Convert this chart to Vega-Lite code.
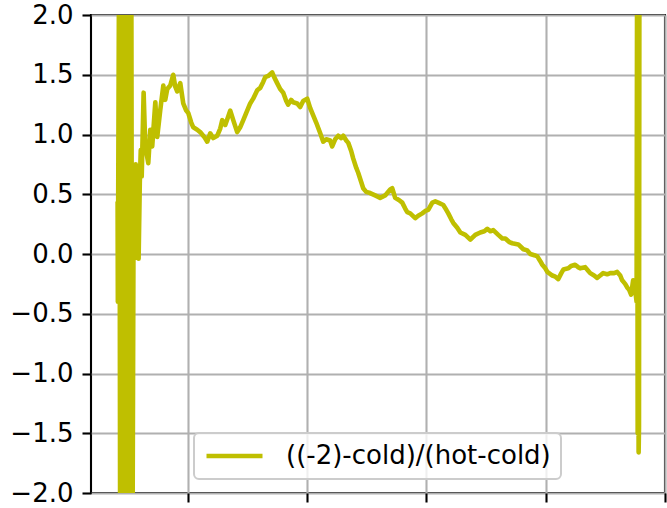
{
  "$schema": "https://vega.github.io/schema/vega-lite/v6.json",
  "width": 574,
  "height": 478,
  "autosize": {"type": "none"},
  "padding": {"left": 91, "top": 15, "right": 2, "bottom": 15},
  "background": "white",
  "config": {
    "view": {"stroke": "black", "strokeWidth": 2.1},
    "axis": {
      "grid": true,
      "gridColor": "#b0b0b0",
      "gridWidth": 2.1,
      "domain": false,
      "tickColor": "black",
      "tickWidth": 2.1,
      "tickSize": 9,
      "labelFont": "DejaVu Sans",
      "labelFontSize": 26,
      "labelColor": "black",
      "labelPadding": 9,
      "title": null
    }
  },
  "data": {
    "values": [
      {"t": 0.414, "v": 0.42}, {"t": 0.416, "v": -0.40},
      {"t": 0.428, "v": 3}, {"t": 0.436, "v": -3}, {"t": 0.445, "v": 3}, {"t": 0.453, "v": -3},
      {"t": 0.461, "v": 3}, {"t": 0.470, "v": -3}, {"t": 0.478, "v": 3}, {"t": 0.487, "v": -3},
      {"t": 0.495, "v": 3}, {"t": 0.503, "v": -3}, {"t": 0.512, "v": 3}, {"t": 0.520, "v": -3},
      {"t": 0.528, "v": 3}, {"t": 0.537, "v": -3},
      {"t": 0.549, "v": 0.74}, {"t": 0.558, "v": -0.02}, {"t": 0.566, "v": 0.75}, {"t": 0.575, "v": -0.03},
      {"t": 0.583, "v": 0.70}, {"t": 0.590, "v": -0.04}, {"t": 0.600, "v": 0.60}, {"t": 0.608, "v": 0.87},
      {"t": 0.616, "v": 0.65}, {"t": 0.632, "v": 1.35}, {"t": 0.646, "v": 0.90}, {"t": 0.671, "v": 0.76},
      {"t": 0.688, "v": 1.04}, {"t": 0.704, "v": 0.90}, {"t": 0.730, "v": 1.27}, {"t": 0.746, "v": 0.98},
      {"t": 0.771, "v": 1.20}, {"t": 0.797, "v": 1.41}, {"t": 0.813, "v": 1.29}, {"t": 0.830, "v": 1.38},
      {"t": 0.855, "v": 1.41}, {"t": 0.880, "v": 1.50}, {"t": 0.897, "v": 1.40}, {"t": 0.914, "v": 1.36},
      {"t": 0.939, "v": 1.43}, {"t": 0.964, "v": 1.26}, {"t": 0.989, "v": 1.20}, {"t": 1.006, "v": 1.18},
      {"t": 1.031, "v": 1.10}, {"t": 1.048, "v": 1.06}, {"t": 1.081, "v": 1.04}, {"t": 1.106, "v": 1.02},
      {"t": 1.140, "v": 0.98}, {"t": 1.165, "v": 0.94}, {"t": 1.190, "v": 1.01}, {"t": 1.215, "v": 0.97},
      {"t": 1.249, "v": 0.99}, {"t": 1.274, "v": 1.05}, {"t": 1.291, "v": 1.12}, {"t": 1.316, "v": 1.08},
      {"t": 1.341, "v": 1.15}, {"t": 1.358, "v": 1.20}, {"t": 1.383, "v": 1.12}, {"t": 1.416, "v": 1.02},
      {"t": 1.441, "v": 1.06}, {"t": 1.467, "v": 1.12}, {"t": 1.492, "v": 1.18}, {"t": 1.525, "v": 1.26},
      {"t": 1.550, "v": 1.30}, {"t": 1.584, "v": 1.37}, {"t": 1.609, "v": 1.39}, {"t": 1.634, "v": 1.44},
      {"t": 1.651, "v": 1.48}, {"t": 1.676, "v": 1.49}, {"t": 1.709, "v": 1.52}, {"t": 1.726, "v": 1.48},
      {"t": 1.751, "v": 1.43}, {"t": 1.776, "v": 1.38}, {"t": 1.802, "v": 1.35}, {"t": 1.827, "v": 1.28},
      {"t": 1.843, "v": 1.25}, {"t": 1.868, "v": 1.29}, {"t": 1.885, "v": 1.27}, {"t": 1.919, "v": 1.26},
      {"t": 1.944, "v": 1.23}, {"t": 1.969, "v": 1.28}, {"t": 2.003, "v": 1.30}, {"t": 2.028, "v": 1.22},
      {"t": 2.053, "v": 1.16}, {"t": 2.078, "v": 1.10}, {"t": 2.112, "v": 1.01}, {"t": 2.137, "v": 0.94},
      {"t": 2.162, "v": 0.96}, {"t": 2.195, "v": 0.95}, {"t": 2.212, "v": 0.90}, {"t": 2.237, "v": 0.96},
      {"t": 2.263, "v": 0.99}, {"t": 2.288, "v": 0.97}, {"t": 2.305, "v": 0.99}, {"t": 2.330, "v": 0.95},
      {"t": 2.347, "v": 0.93}, {"t": 2.372, "v": 0.86}, {"t": 2.388, "v": 0.80}, {"t": 2.414, "v": 0.72},
      {"t": 2.430, "v": 0.68}, {"t": 2.456, "v": 0.60}, {"t": 2.472, "v": 0.55}, {"t": 2.497, "v": 0.52},
      {"t": 2.530, "v": 0.51}, {"t": 2.572, "v": 0.49}, {"t": 2.614, "v": 0.47}, {"t": 2.656, "v": 0.49},
      {"t": 2.698, "v": 0.54}, {"t": 2.715, "v": 0.55}, {"t": 2.740, "v": 0.47}, {"t": 2.774, "v": 0.45},
      {"t": 2.799, "v": 0.43}, {"t": 2.824, "v": 0.38}, {"t": 2.841, "v": 0.35}, {"t": 2.866, "v": 0.34},
      {"t": 2.908, "v": 0.30}, {"t": 2.933, "v": 0.32}, {"t": 2.967, "v": 0.34}, {"t": 2.992, "v": 0.36},
      {"t": 3.017, "v": 0.37}, {"t": 3.051, "v": 0.43}, {"t": 3.076, "v": 0.44}, {"t": 3.101, "v": 0.43},
      {"t": 3.143, "v": 0.41}, {"t": 3.168, "v": 0.37}, {"t": 3.185, "v": 0.34}, {"t": 3.210, "v": 0.29},
      {"t": 3.227, "v": 0.26}, {"t": 3.260, "v": 0.22}, {"t": 3.286, "v": 0.18}, {"t": 3.328, "v": 0.16},
      {"t": 3.370, "v": 0.12}, {"t": 3.411, "v": 0.16}, {"t": 3.453, "v": 0.18}, {"t": 3.487, "v": 0.19},
      {"t": 3.512, "v": 0.21}, {"t": 3.537, "v": 0.19}, {"t": 3.562, "v": 0.20}, {"t": 3.604, "v": 0.16},
      {"t": 3.638, "v": 0.13}, {"t": 3.663, "v": 0.13}, {"t": 3.696, "v": 0.10}, {"t": 3.721, "v": 0.09},
      {"t": 3.772, "v": 0.08}, {"t": 3.814, "v": 0.04}, {"t": 3.847, "v": 0.03}, {"t": 3.872, "v": 0.00},
      {"t": 3.906, "v": -0.01}, {"t": 3.931, "v": -0.02}, {"t": 3.956, "v": -0.06}, {"t": 3.973, "v": -0.09},
      {"t": 3.998, "v": -0.12}, {"t": 4.015, "v": -0.15}, {"t": 4.057, "v": -0.18}, {"t": 4.082, "v": -0.19},
      {"t": 4.107, "v": -0.21}, {"t": 4.132, "v": -0.16}, {"t": 4.149, "v": -0.13}, {"t": 4.191, "v": -0.12},
      {"t": 4.214, "v": -0.10}, {"t": 4.248, "v": -0.09}, {"t": 4.273, "v": -0.11}, {"t": 4.290, "v": -0.12},
      {"t": 4.332, "v": -0.11}, {"t": 4.357, "v": -0.14}, {"t": 4.374, "v": -0.16}, {"t": 4.407, "v": -0.18},
      {"t": 4.432, "v": -0.20}, {"t": 4.458, "v": -0.18}, {"t": 4.483, "v": -0.16}, {"t": 4.516, "v": -0.17},
      {"t": 4.542, "v": -0.16}, {"t": 4.575, "v": -0.16}, {"t": 4.600, "v": -0.15}, {"t": 4.626, "v": -0.18},
      {"t": 4.642, "v": -0.22}, {"t": 4.667, "v": -0.25}, {"t": 4.684, "v": -0.28}, {"t": 4.701, "v": -0.30},
      {"t": 4.717, "v": -0.34}, {"t": 4.734, "v": -0.22}, {"t": 4.751, "v": -0.30}, {"t": 4.763, "v": -0.40},
      {"t": 4.768, "v": 3}, {"t": 4.772, "v": -1.5}, {"t": 4.776, "v": 3}, {"t": 4.780, "v": -1.66},
      {"t": 4.783, "v": -1.45}, {"t": 4.787, "v": 3}
    ]
  },
  "mark": {"type": "line", "clip": true, "strokeWidth": 4.6, "strokeJoin": "round", "strokeCap": "square"},
  "encoding": {
    "x": {
      "field": "t",
      "type": "quantitative",
      "scale": {"domain": [0.191, 5.001], "nice": false, "zero": false},
      "axis": {"values": [1, 2, 3, 4, 5], "labels": false}
    },
    "y": {
      "field": "v",
      "type": "quantitative",
      "scale": {"domain": [-2, 2], "nice": false, "zero": false},
      "axis": {"values": [-2, -1.5, -1, -0.5, 0, 0.5, 1, 1.5, 2], "format": ".1f"}
    },
    "color": {
      "datum": "((-2)-cold)/(hot-cold)",
      "type": "nominal",
      "scale": {"range": ["#bfbf00"]},
      "legend": {
        "title": null,
        "orient": "none",
        "legendX": 103,
        "legendY": 418,
        "symbolType": "stroke",
        "symbolSize": 3136,
        "symbolStrokeWidth": 4.4,
        "labelFont": "DejaVu Sans",
        "labelFontSize": 26,
        "labelColor": "black",
        "labelOffset": 21,
        "labelLimit": 500,
        "clipHeight": 26,
        "padding": 10,
        "strokeColor": "#cccccc",
        "fillColor": "rgba(255,255,255,0.8)",
        "cornerRadius": 5,
        "encode": {"legend": {"update": {"strokeWidth": {"value": 2}}}}
      }
    }
  }
}
